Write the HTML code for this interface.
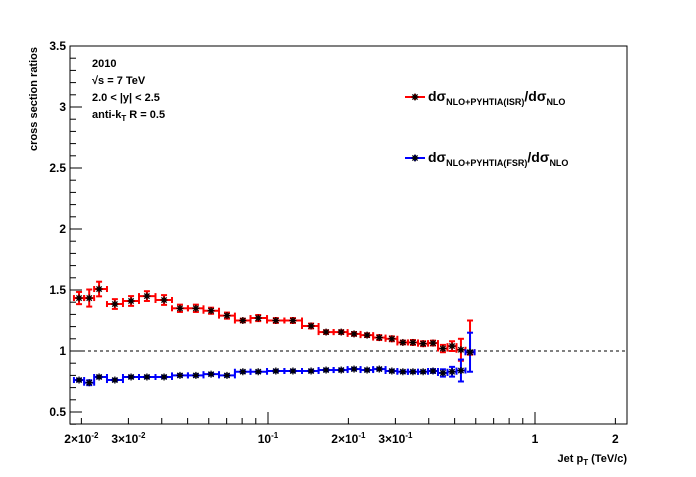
<!DOCTYPE html>
<html><head><meta charset="utf-8"><style>
body{margin:0;background:#fff;}
svg text{font-family:"Liberation Sans",sans-serif;font-weight:bold;}
</style></head><body>
<svg id="c" width="696" height="472" xmlns="http://www.w3.org/2000/svg"></svg>
<script>
const xCenters=[0.0196,0.0214,0.0233,0.0267,0.0307,0.0352,0.0408,0.0468,0.0537,0.0612,0.0702,0.0805,0.0919,0.107,0.124,0.145,0.165,0.188,0.210,0.235,0.261,0.291,0.320,0.349,0.381,0.415,0.452,0.489,0.528,0.571];
const isrValues=[1.434,1.434,1.508,1.385,1.41,1.45,1.418,1.35,1.35,1.33,1.29,1.25,1.27,1.25,1.25,1.205,1.155,1.155,1.14,1.13,1.11,1.10,1.07,1.07,1.06,1.065,1.02,1.04,1.01,0.99];
const isrErrorsUp=[0.05,0.07,0.06,0.04,0.04,0.04,0.04,0.03,0.03,0.025,0.025,0.015,0.025,0.02,0.02,0.02,0.015,0.015,0.015,0.015,0.02,0.02,0.015,0.02,0.02,0.02,0.03,0.04,0.09,0.26];
const isrErrorsLow=[0.05,0.07,0.06,0.04,0.04,0.04,0.04,0.03,0.03,0.025,0.025,0.015,0.025,0.02,0.02,0.02,0.015,0.015,0.015,0.015,0.02,0.02,0.015,0.02,0.02,0.02,0.03,0.04,0.09,0.02];
const fsrValues=[0.762,0.74,0.787,0.762,0.787,0.787,0.787,0.80,0.80,0.81,0.80,0.83,0.83,0.836,0.836,0.836,0.844,0.844,0.852,0.844,0.852,0.836,0.83,0.83,0.83,0.836,0.82,0.83,0.84,0.99];
const fsrErrors=[0.01,0.02,0.01,0.01,0.01,0.01,0.01,0.01,0.01,0.01,0.01,0.01,0.01,0.01,0.01,0.01,0.01,0.01,0.01,0.01,0.01,0.01,0.01,0.01,0.01,0.015,0.03,0.04,0.09,0.16];
const yTicks=[0.5,1,1.5,2,2.5,3,3.5];
const yTickLabels=["0.5","1","1.5","2","2.5","3","3.5"];

const NS="http://www.w3.org/2000/svg",svg=document.getElementById('c');
const L=70,R=627,T=46,B=424;
const X=v=>268+267*(Math.log10(v)+1);
const Y=v=>351-(v-1)*122;
function el(t,a,p){const e=document.createElementNS(NS,t);for(const k in a)e.setAttribute(k,a[k]);(p||svg).appendChild(e);return e;}
function star(x,y,g){const r=3.5;
el('line',{x1:x-r,x2:x+r,y1:y,y2:y,stroke:'#000','stroke-width':1.3},g);
el('line',{x1:x,x2:x,y1:y-r,y2:y+r,stroke:'#000','stroke-width':1.3},g);
el('line',{x1:x-2.6,x2:x+2.6,y1:y-2.6,y2:y+2.6,stroke:'#000','stroke-width':1.3},g);
el('line',{x1:x-2.6,x2:x+2.6,y1:y+2.6,y2:y-2.6,stroke:'#000','stroke-width':1.3},g);}
let e;
e=el('rect',{x:L,y:T,width:R-L,height:B-T,fill:'none',stroke:'#000','stroke-width':1});

for(let v=0.4;v<=3.5001;v+=0.1){const y=Y(v);const maj=Math.abs(v*2-Math.round(v*2))<1e-6;el('line',{x1:L,x2:L+(maj?12:6),y1:y,y2:y,stroke:'#000'});}
yTicks.forEach((v,i)=>{e=el('text',{x:L-4,y:Y(v)+4,'text-anchor':'end','font-size':12});e.textContent=yTickLabels[i];
});
for(let d=-2;d<=0;d++)for(let m=1;m<=9;m++){const v=m*Math.pow(10,d);const x=X(v);if(x<L||x>R)continue;el('line',{x1:x,x2:x,y1:B,y2:B-(m==1?12:6),stroke:'#000'});}
function xl(x,html){const t=el('text',{x:x,y:443,'text-anchor':'middle','font-size':12});t.innerHTML=html;
}
xl(X(0.02),'2×10<tspan dy="-5" font-size="8">-2</tspan>');
xl(X(0.03),'3×10<tspan dy="-5" font-size="8">-2</tspan>');
xl(X(0.1),'10<tspan dy="-5" font-size="8">-1</tspan>');
xl(X(0.2),'2×10<tspan dy="-5" font-size="8">-1</tspan>');
xl(X(0.3),'3×10<tspan dy="-5" font-size="8">-1</tspan>');
xl(X(1),'1');xl(X(2),'2');
e=el('line',{x1:L,x2:R,y1:Y(1),y2:Y(1),stroke:'#000','stroke-dasharray':'3,3'});

function edges(i){const lc=Math.log10(xCenters[i]);const lp=i>0?Math.log10(xCenters[i-1]):lc-(Math.log10(xCenters[1])-lc);
const ln=i<xCenters.length-1?Math.log10(xCenters[i+1]):lc+(lc-lp);return [Math.max(L,X(Math.pow(10,(lc+lp)/2))),X(Math.pow(10,(lc+ln)/2))];}
function series(vals,eu,ed,col,name){const g=el('g',{});
vals.forEach((v,i)=>{const x=X(xCenters[i]),y=Y(v),[a,b]=edges(i);
el('line',{x1:a,x2:b,y1:y,y2:y,stroke:col,'stroke-width':2},g);
el('line',{x1:a,x2:a,y1:y-3,y2:y+3,stroke:col,'stroke-width':2},g);
el('line',{x1:b,x2:b,y1:y-3,y2:y+3,stroke:col,'stroke-width':2},g);
const y1=Y(v+eu[i]),y2=Y(v-ed[i]);
el('line',{x1:x,x2:x,y1:y1,y2:y2,stroke:col,'stroke-width':2},g);
el('line',{x1:x-3,x2:x+3,y1:y1,y2:y1,stroke:col,'stroke-width':2},g);
el('line',{x1:x-3,x2:x+3,y1:y2,y2:y2,stroke:col,'stroke-width':2},g);
star(x,y,g);});}
series(isrValues,isrErrorsUp,isrErrorsLow,'#f00','isr-series');
series(fsrValues,fsrErrors,fsrErrors,'#00f','fsr-series');
function leg(y,col,sub,name){const g=el('g',{});
el('line',{x1:405,x2:425,y1:y,y2:y,stroke:col,'stroke-width':2},g);
el('line',{x1:415,x2:415,y1:y-3,y2:y+3,stroke:col,'stroke-width':2},g);
star(415,y,g);
const t=el('text',{x:428,y:y+4,'font-size':14},g);
t.innerHTML='dσ<tspan dy="4" font-size="9">'+sub+'</tspan><tspan dy="-4">/dσ</tspan><tspan dy="4" font-size="9">NLO</tspan>';}
leg(97,'#f00','NLO+PYHTIA(ISR)','legend-entry-isr');
leg(158,'#00f','NLO+PYHTIA(FSR)','legend-entry-fsr');
function tx(x,y,html,name,sz){const t=el('text',{x:x,y:y,'font-size':sz||11});t.innerHTML=html;}
tx(92,67,'2010','label-year');
tx(92,84,'√s = 7 TeV','label-energy');
tx(92,101,'2.0 &lt; |y| &lt; 2.5','label-rapidity');
tx(92,118,'anti-k<tspan dy="3" font-size="8">T</tspan><tspan dy="-3"> R = 0.5</tspan>','label-algorithm');
e=el('text',{x:0,y:0,'font-size':11,'text-anchor':'end',transform:'translate(37,47) rotate(-90)'});e.textContent='cross section ratios';

e=el('text',{x:627,y:462,'font-size':11,'text-anchor':'end'});e.innerHTML='Jet p<tspan dy="3" font-size="8">T</tspan><tspan dy="-3"> (TeV/c)</tspan>';

</script>
</body></html>
